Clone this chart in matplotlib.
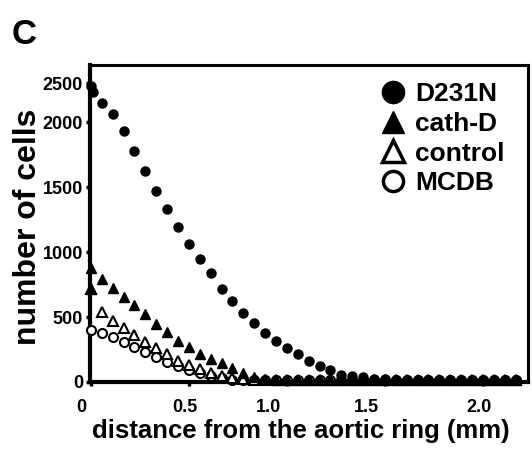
import matplotlib
matplotlib.use("Agg")
import matplotlib.pyplot as plt
from matplotlib.lines import Line2D
from matplotlib.transforms import ScaledTranslation

plt.rcParams['font.family'] = ['Liberation Sans', 'DejaVu Sans']
plt.rcParams['font.weight'] = 'bold'

# distance from the aortic ring (mm), one bin every ~0.056 mm
distance = [0.0, 0.056, 0.111, 0.167, 0.222, 0.278, 0.333, 0.389, 0.444, 0.5,
            0.556, 0.611, 0.667, 0.722, 0.778, 0.833, 0.889, 0.944, 1.0, 1.056,
            1.111, 1.167, 1.222, 1.278, 1.333, 1.389, 1.444, 1.5, 1.556, 1.611,
            1.667, 1.722, 1.778, 1.833, 1.889, 1.944, 2.0, 2.056, 2.111, 2.167]

# number of cells per bin
d231n = [2280, 2146, 2061, 1930, 1777, 1623, 1469, 1330, 1192, 1061,
         946, 838, 715, 623, 530, 454, 377, 315, 261, 215,
         161, 123, 92, 54, 46, 38, 25, 20, 18, 18,
         18, 18, 18, 18, 18, 18, 18, 18, 18, 18]
cathd = [877, 792, 723, 654, 592, 523, 446, 385, 315, 269,
         215, 177, 146, 108, 69, 38, 20, 18, 18, 18,
         18, 18, 18, 18, 18, 18, 18, 18, 18, 18,
         18, 18, 18, 18, 18, 18, 18, 18, 18, 18]
control = [715, 538, 469, 415, 361, 308, 261, 215, 161, 131,
           100, 69, 46, 31, 20, 18, 18, 18, 18, 18,
           18, 18, 18, 18, 18, 18, 18, 18, 18, 18,
           18, 18, 18, 18, 18, 18, 18, 18, 18, 18]
mcdb = [400, 377, 346, 308, 269, 231, 192, 154, 123, 92,
        69, 46, 31, 15, 12, 12, 12, 12, 12, 12,
        12, 12, 12, 12, 12, 12, 12, 12, 12, 12,
        12, 12, 12, 12, 12, 12, 12, 12, 12, 12]
# second reading at the ring itself
d231n_extra = (0.008, 2230)
cathd_extra = (0.0, 715)

xticks = [0, 0.5, 1.0, 1.5, 2.0]
xticklabels = ['0', '0.5', '1.0', '1.5', '2.0']
yticks = [0, 500, 1000, 1500, 2000, 2300]
yticklabels = ['0', '500', '1000', '1500', '2000', '2500']

fig = plt.figure(figsize=(5.32, 4.5), dpi=100)
ax = fig.add_axes([90/532, 1-382/450, 438/532, 317/450])

ax.plot(distance, mcdb, 'o', ms=6.5, mfc='white', mec='black', mew=1.5, clip_on=False, zorder=3)
ax.plot(distance, control, '^', ms=7, mfc='white', mec='black', mew=1.5, clip_on=False, zorder=3)
ax.plot(distance, cathd, '^', ms=7, color='black', clip_on=False, zorder=4)
ax.plot([cathd_extra[0]], [cathd_extra[1]], '^', ms=7, color='black', clip_on=False, zorder=4)
ax.plot(distance, d231n, 'o', ms=6.5, color='black', clip_on=False, zorder=5)
ax.plot([d231n_extra[0]], [d231n_extra[1]], 'o', ms=6.5, color='black', clip_on=False, zorder=5)

ax.set_xlim(-0.005, 2.23)
ax.set_ylim(0, 2440)

for side in ['left', 'bottom']:
    ax.spines[side].set_linewidth(3.0)
for side in ['top', 'right']:
    ax.spines[side].set_linewidth(2.2)

ax.set_xticks(xticks)
ax.set_xticklabels(xticklabels, fontsize=13, fontweight='bold')
ax.set_yticks(yticks)
ax.set_yticklabels(yticklabels, fontsize=13, fontweight='bold')
ax.tick_params(axis='both', direction='out', length=3, width=2.5, pad=2)
ax.tick_params(axis='x', pad=9)

# the printed tick labels sit a bit off their tick marks
x_shift = [-10, -4, -18, -19, -4]
for lab, dx in zip(ax.get_xticklabels(), x_shift):
    lab.set_transform(lab.get_transform() + ScaledTranslation(dx/100, 0, fig.dpi_scale_trans))

fig.text(301/532, 1-431/450, 'distance from the aortic ring (mm)', fontsize=18.5,
         fontweight='bold', ha='center', va='center')
fig.text(28/532, 1-227/450, 'number of cells', fontsize=23, fontweight='bold',
         rotation=90, ha='center', va='center')
fig.text(12/532, 1-35/450, 'C', fontsize=25, fontweight='bold', ha='left', va='center')

handles = [
    Line2D([], [], ls='none', marker='o', ms=16, color='black'),
    Line2D([], [], ls='none', marker='^', ms=16, color='black'),
    Line2D([], [], ls='none', marker='^', ms=16, mfc='white', mec='black', mew=2.5),
    Line2D([], [], ls='none', marker='o', ms=14.5, mfc='white', mec='black', mew=2.5),
]
ax.legend(handles, ['D231N', 'cath-D', 'control', 'MCDB'], loc='upper left',
          bbox_to_anchor=(380/532, 1-82/450), bbox_transform=fig.transFigure,
          frameon=False, prop={'size': 19, 'weight': 'bold'}, handlelength=1.0,
          handletextpad=0.34, labelspacing=0.22, borderpad=0, borderaxespad=0)

fig.savefig('out.png', dpi=100)
